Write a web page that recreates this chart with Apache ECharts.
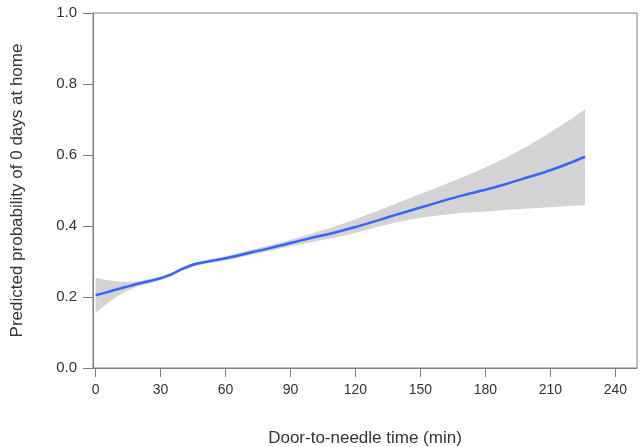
<!DOCTYPE html>
<html>
<head>
<meta charset="utf-8">
<script src="https://cdn.jsdelivr.net/npm/echarts@6/dist/echarts.min.js"></script>
<style>html,body{margin:0;padding:0;background:#fff;}#chart{width:641px;height:447px;}</style>
</head>
<body>
<div id="chart"></div>
<script>
// Door-to-needle time (min)
var times = [0, 5, 10, 15, 20, 25, 30, 35, 40, 45, 50, 60, 70, 80, 90, 100, 110, 120, 130, 140, 150, 160, 170, 180, 190, 200, 210, 220, 226];
// predicted probability of 0 days at home
var predicted = [0.205, 0.213, 0.222, 0.230, 0.238, 0.245, 0.253, 0.264, 0.279, 0.291, 0.298, 0.309, 0.323, 0.337, 0.352, 0.367, 0.381, 0.397, 0.415, 0.434, 0.452, 0.470, 0.487, 0.502, 0.519, 0.538, 0.557, 0.580, 0.595];
// confidence band
var bandUpper = [0.254, 0.248, 0.244, 0.242, 0.245, 0.251, 0.258, 0.269, 0.284, 0.296, 0.303, 0.315, 0.330, 0.345, 0.361, 0.379, 0.398, 0.419, 0.442, 0.466, 0.490, 0.514, 0.539, 0.565, 0.594, 0.627, 0.664, 0.703, 0.729];
var bandLower = [0.155, 0.180, 0.202, 0.218, 0.231, 0.239, 0.248, 0.259, 0.274, 0.286, 0.293, 0.303, 0.316, 0.329, 0.343, 0.355, 0.367, 0.380, 0.397, 0.412, 0.423, 0.431, 0.437, 0.441, 0.446, 0.449, 0.453, 0.457, 0.459];
var xTicks = [0, 30, 60, 90, 120, 150, 180, 210, 240];
var yTicks = [0, 0.2, 0.4, 0.6, 0.8, 1.0];

var chart = echarts.init(document.getElementById('chart'), null, {renderer: 'canvas'});
var font = '"Liberation Sans", Arial, Helvetica, sans-serif';
var axisColor = '#7f7f7f';
var textColor = '#333333';

var bandData = times.map(function (t, i) { return [t, bandLower[i], bandUpper[i]]; });
var lineData = times.map(function (t, i) { return [t, predicted[i]]; });

chart.setOption({
  animation: false,
  backgroundColor: '#ffffff',
  grid: {
    left: 93, right: 4, top: 13, bottom: 79,
    outerBoundsMode: 'none',
    containLabel: false,
    show: true, borderColor: axisColor, borderWidth: 1, backgroundColor: 'transparent'
  },
  xAxis: {
    type: 'value',
    min: -1.2, max: 250,
    name: 'Door-to-needle time (min)',
    nameLocation: 'middle',
    nameGap: 62,
    nameTextStyle: {fontFamily: font, fontSize: 17, color: textColor},
    axisLine: {show: true, onZero: false, lineStyle: {color: axisColor, width: 1}},
    axisTick: {show: true, inside: false, length: 9, customValues: xTicks, lineStyle: {color: axisColor, width: 1}},
    axisLabel: {show: true, margin: 15, customValues: xTicks, fontFamily: font, fontSize: 14, color: textColor},
    splitLine: {show: false}
  },
  yAxis: {
    type: 'value',
    min: 0, max: 1, interval: 0.2,
    name: 'Predicted probability of 0 days at home',
    nameLocation: 'middle',
    nameGap: 67,
    nameTextStyle: {fontFamily: font, fontSize: 17, color: textColor},
    axisLine: {show: true, onZero: false, lineStyle: {color: axisColor, width: 1}},
    axisTick: {show: true, inside: false, length: 10, lineStyle: {color: axisColor, width: 1}},
    axisLabel: {show: true, margin: 16, fontFamily: font, fontSize: 15, color: textColor,
      formatter: function (v) { return v.toFixed(1); }},
    splitLine: {show: false}
  },
  series: [
    {
      type: 'custom',
      name: 'band',
      silent: true,
      data: bandData,
      encode: {x: 0, y: [1, 2]},
      renderItem: function (params, api) {
        if (params.dataIndex !== 0) { return null; }
        var pts = [];
        for (var i = 0; i < bandData.length; i++) {
          pts.push(api.coord([bandData[i][0], bandData[i][2]]));
        }
        for (var j = bandData.length - 1; j >= 0; j--) {
          pts.push(api.coord([bandData[j][0], bandData[j][1]]));
        }
        return {
          type: 'polygon',
          shape: {points: pts},
          style: {fill: '#d3d3d3', stroke: null}
        };
      },
      z: 1
    },
    {
      type: 'line', name: 'predicted', data: lineData,
      symbol: 'none', smooth: 0.3,
      lineStyle: {color: '#3366ff', width: 2.5},
      z: 3
    }
  ]
});
</script>
</body>
</html>
